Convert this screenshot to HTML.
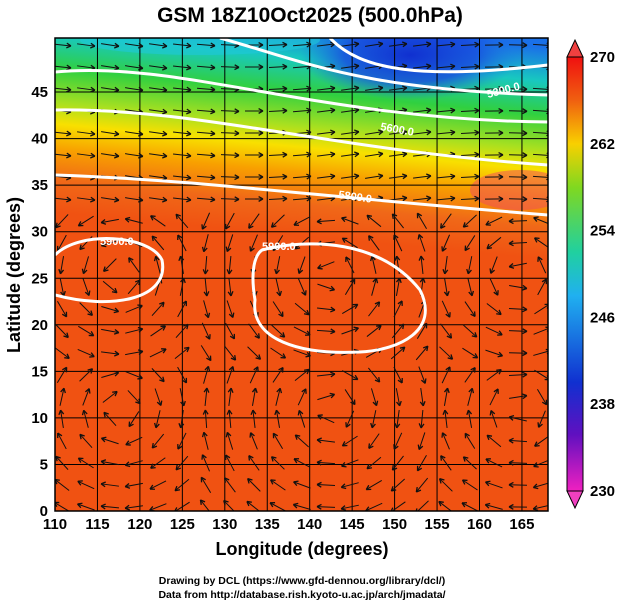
<!DOCTYPE html>
<html><head><meta charset="utf-8"><style>
body{margin:0;background:#fff;}
svg text{font-family:"Liberation Sans",sans-serif;font-weight:bold;}
</style></head><body>
<svg id="c" width="619" height="605" xmlns="http://www.w3.org/2000/svg">
<defs>
<linearGradient id="fld" gradientUnits="userSpaceOnUse" x1="310" y1="25" x2="290" y2="235">
<stop offset="0" stop-color="#1a70e8"/>
<stop offset="0.16" stop-color="#18c8c0"/>
<stop offset="0.32" stop-color="#30d040"/>
<stop offset="0.48" stop-color="#a8e020"/>
<stop offset="0.58" stop-color="#f8e000"/>
<stop offset="0.7" stop-color="#f8a000"/>
<stop offset="0.85" stop-color="#f06818"/>
<stop offset="1" stop-color="#f05212"/>
</linearGradient>
<linearGradient id="cb" x1="0" y1="0" x2="0" y2="1">
<stop offset="0" stop-color="#f01010"/>
<stop offset="0.1" stop-color="#f06010"/>
<stop offset="0.2" stop-color="#f8d000"/>
<stop offset="0.3" stop-color="#80d820"/>
<stop offset="0.45" stop-color="#20d0a0"/>
<stop offset="0.55" stop-color="#20b0f0"/>
<stop offset="0.75" stop-color="#1030d0"/>
<stop offset="0.87" stop-color="#6010c0"/>
<stop offset="1" stop-color="#f020c0"/>
</linearGradient>
<radialGradient id="cold"><stop offset="0" stop-color="#1030d0"/><stop offset="0.6" stop-color="#1848e0" stop-opacity="0.8"/><stop offset="1" stop-color="#1a70e8" stop-opacity="0"/></radialGradient>
<clipPath id="pc"><rect x="55" y="38" width="493" height="473"/></clipPath>
</defs>
<text x="310" y="22" font-size="21" text-anchor="middle">GSM 18Z10Oct2025 (500.0hPa)</text>
<g clip-path="url(#pc)">
<rect x="55" y="38" width="493" height="473" fill="#f05212"/>
<rect x="55" y="38" width="493" height="220" fill="url(#fld)"/>
<ellipse cx="410" cy="55" rx="110" ry="45" fill="url(#cold)"/>
<ellipse cx="200" cy="40" rx="120" ry="15" fill="#20c8d8" opacity="0.6"/>
<ellipse cx="520" cy="190" rx="50" ry="20" fill="#f04860" opacity="0.5"/>
<g id="grid"></g>
<g id="arrows"></g>
<g fill="none" stroke="#fff" stroke-width="3">
<path d="M55,175 C200,180 300,195 548,215"/>
<path d="M55,110 C200,108 330,150 548,165"/>
<path d="M55,72 C180,60 320,120 548,122"/>
<path d="M220,38 C300,60 360,90 548,95"/>
<path d="M330,38 C360,70 420,80 548,65"/>
<path d="M55,255 C80,230 150,235 162,260 C170,300 110,310 55,295"/>
<path d="M262,250 C310,238 380,240 420,290 C440,330 400,350 360,352 C300,355 250,340 255,300 C250,270 255,255 262,250 Z"/>
</g>
<g fill="#fff" font-size="11">
<text x="338" y="198" transform="rotate(8 338 198)">5800.0</text>
<text x="262" y="250">5900.0</text>
<text x="100" y="245">5900.0</text>
<text x="380" y="130" transform="rotate(10 380 130)">5600.0</text>
<text x="488" y="98" transform="rotate(-15 488 98)">5300.0</text>
</g>
</g>
<rect x="55" y="38" width="493" height="473" fill="none" stroke="#000" stroke-width="1.5"/>
<g id="xt" font-size="15" text-anchor="middle"></g>
<g id="yt" font-size="15" text-anchor="end"></g>
<text x="302" y="555" font-size="18" text-anchor="middle">Longitude (degrees)</text>
<text x="20" y="275" font-size="18" text-anchor="middle" transform="rotate(-90 20 275)">Latitude  (degrees)</text>
<g>
<polygon points="567,57 583,57 575,40" fill="#f04040" stroke="#000"/>
<rect x="567" y="57" width="16" height="434" fill="url(#cb)" stroke="#000"/>
<polygon points="567,491 583,491 575,508" fill="#f040c0" stroke="#000"/>
<g id="cbt" font-size="15"></g>
</g>
<text x="302" y="584" font-size="10.5" text-anchor="middle">Drawing by DCL (https://www.gfd-dennou.org/library/dcl/)</text>
<text x="302" y="598" font-size="10.5" text-anchor="middle">Data from http://database.rish.kyoto-u.ac.jp/arch/jmadata/</text>
</svg>
<script>
const xTicks=[110,115,120,125,130,135,140,145,150,155,160,165];
const yTicks=[0,5,10,15,20,25,30,35,40,45];
const cbTicks=[270,262,254,246,238,230];
const NS='http://www.w3.org/2000/svg';
const xs=v=>55+(v-110)*8.49, ys=v=>511-v*9.31, cs=v=>57+(270-v)*10.85;
function mk(t,a,p){const e=document.createElementNS(NS,t);for(const k in a)e.setAttribute(k,a[k]);p.appendChild(e);return e;}
const g=document.getElementById('grid'),xt=document.getElementById('xt'),yt=document.getElementById('yt'),cb=document.getElementById('cbt');
xTicks.forEach(v=>{const l=mk('line',{x1:xs(v),x2:xs(v),y1:38,y2:511,stroke:'#000','stroke-width':1},g);


const t=mk('text',{x:xs(v),y:529},xt);t.textContent=v;

});
yTicks.forEach(v=>{const l=mk('line',{y1:ys(v),y2:ys(v),x1:55,x2:548,stroke:'#000','stroke-width':1},g);


const t=mk('text',{x:48,y:ys(v)+5},yt);t.textContent=v;

});
cbTicks.forEach(v=>{const t=mk('text',{x:590,y:cs(v)+5},cb);t.textContent=v;

});
const a=document.getElementById('arrows');
for(let y=45;y<510;y+=22)for(let x=62;x<545;x+=24){
 let ang;const lat=(511-y)/9.31;
 if(lat>33)ang=0.15*Math.sin(x/80);
 else{const cx=x<200?120:(x<440?330:520),cy=lat>15?275:410;ang=Math.atan2(y-cy,x-cx)+Math.PI/2*(lat>15?-1:1);}
 const dx=Math.cos(ang)*9,dy=Math.sin(ang)*9;
 const p=mk('path',{d:`M${x-dx},${y-dy}L${x+dx},${y+dy}`,stroke:'#111','stroke-width':1,fill:'none'},a);
 
 
 const h=mk('path',{d:`M${x+dx},${y+dy}l${-Math.cos(ang-0.5)*5},${-Math.sin(ang-0.5)*5}M${x+dx},${y+dy}l${-Math.cos(ang+0.5)*5},${-Math.sin(ang+0.5)*5}`,stroke:'#111','stroke-width':1.3,fill:'none'},a);
 
 
}
</script>
</body></html>
